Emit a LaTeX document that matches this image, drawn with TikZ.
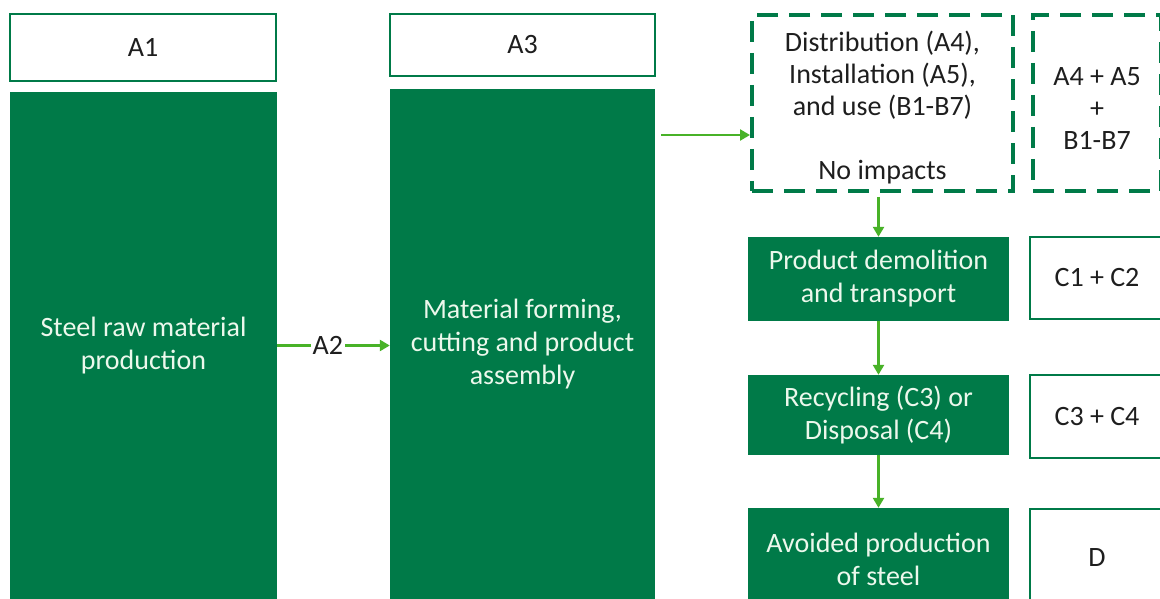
\documentclass[tikz,border=0pt]{standalone}
\usepackage{fontspec}
\setmainfont{Carlito}
\usetikzlibrary{arrows.meta,calc}

\definecolor{lcagreen}{RGB}{0,122,72}
\definecolor{flowgreen}{RGB}{72,178,40}
\definecolor{stagetext}{RGB}{236,248,236}
\definecolor{moduletext}{RGB}{30,30,30}

\tikzset{
  stage/.style={fill=lcagreen, text=stagetext, align=center, inner sep=0pt, font=\fontsize{28}{33}\selectfont},
  module/.style={draw=lcagreen, line width=2pt, fill=white, text=moduletext, align=center, inner sep=0pt, font=\fontsize{28}{33}\selectfont},
  noimpact/.style={draw=lcagreen, line width=4pt, dash pattern=on 21pt off 11pt, text=moduletext, align=center, inner sep=0pt, font=\fontsize{28}{32}\selectfont},
  flow/.style={draw=flowgreen, line width=2.4pt, -{Triangle[length=10pt,width=11pt]}}
}

\begin{document}
\begin{tikzpicture}[x=1pt,y=-1pt]
				\useasboundingbox (0,0) rectangle (1160,599);
				\clip (0,0) rectangle (1160,599);
				% production stage
				\node[module, minimum width=266pt, minimum height=67pt] (a1) at (143,47.5) {A1};
				\node[stage, minimum width=267pt, minimum height=507pt] (raw) at (143.5,345.5) {Steel raw material\\production};
				\node[module, minimum width=265pt, minimum height=62pt] (a3) at (522.5,45) {A3};
				\node[stage, minimum width=265pt, minimum height=510pt] (asm) at (522.5,344) {Material forming,\\cutting and product\\assembly};
				% use stage
				\node[noimpact, minimum width=261pt, minimum height=176pt] (dist) at (882.5,103) {\rule{0pt}{30pt}Distribution (A4),\\Installation (A5),\\and use (B1-B7)\\\mbox{}\\No impacts};
				\node[noimpact, minimum width=128pt, minimum height=176pt] (ab) at (1097,103) {\rule{0pt}{29pt}A4 + A5\\+\\B1-B7};
				% end of life
				\node[stage, minimum width=261pt, minimum height=84pt] (dem) at (878.5,279) {Product demolition\\and transport};
				\node[module, minimum width=134pt, minimum height=82pt] (c12) at (1097,278) {C1 + C2};
				\node[stage, minimum width=261pt, minimum height=80pt] (rec) at (878.5,415) {Recycling (C3) or\\Disposal (C4)};
				\node[module, minimum width=134pt, minimum height=83pt] (c34) at (1097,416.5) {C3 + C4};
				\node[stage, minimum width=261pt, minimum height=102pt] (avo) at (878.5,559) {Avoided production\\of steel};
				\node[module, minimum width=134pt, minimum height=98pt] (dmod) at (1097,558) {D};
				% flows
				\draw[flow] (raw.east) -- node[pos=.45, fill=white, text=moduletext, inner sep=2pt, font=\fontsize{28}{33}\selectfont] {A2} (raw.east -| asm.west);
				\coordinate (feed) at (661,135);
				\draw[flow] (feed) -- (feed -| dist.west);
				\draw[flow, shorten <=4pt] (dist.south -| dem.north) -- (dem.north);
				\draw[flow] (dem.south) -- (rec.north);
				\draw[flow] (rec.south) -- (avo.north);
			\end{tikzpicture}
\end{document}
